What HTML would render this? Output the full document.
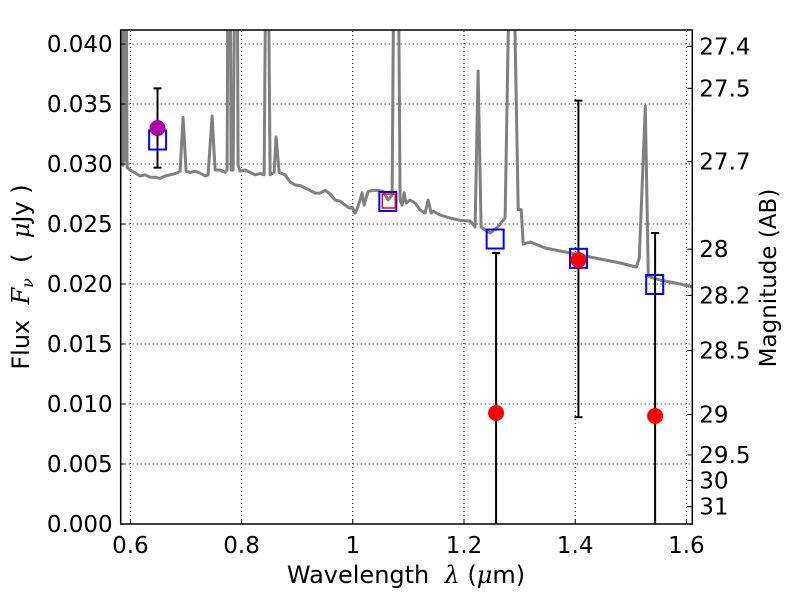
<!DOCTYPE html>
<html><head><meta charset="utf-8"><style>
html,body{margin:0;padding:0;background:#fff;overflow:hidden;width:800px;height:600px;}
svg{display:block;font-family:"DejaVu Sans","Liberation Sans",sans-serif;}
</style></head><body>
<svg id="chart" width="800" height="600" viewBox="0 0 800 600">
<defs><clipPath id="pc"><rect x="120.7" y="30" width="571.6" height="494"/></clipPath></defs>
<rect x="0" y="0" width="800" height="600" fill="#fff"/>
<g id="grid"></g>
<g id="marks" clip-path="url(#pc)"></g>
<g id="axes"></g>
<text x="406" y="583" font-size="24" text-anchor="middle" xml:space="preserve">Wavelength  <tspan font-style="italic" font-family="DejaVu Serif,serif">λ</tspan> (<tspan font-style="italic" font-family="DejaVu Serif,serif">μ</tspan>m)</text>
<text transform="translate(29,277) rotate(-90)" font-size="24" text-anchor="middle" xml:space="preserve">Flux  <tspan font-style="italic" font-family="DejaVu Serif,serif">F<tspan font-size="16" dy="4">ν</tspan></tspan><tspan dy="-4">  (  </tspan><tspan font-style="italic" font-family="DejaVu Serif,serif">μ</tspan>Jy )</text>
<text transform="translate(776,278) rotate(-90)" font-size="23" text-anchor="middle">Magnitude (AB)</text>
</svg>
<script>
const specLam = [0.5833,0.5851,0.5869,0.5887,0.5905,0.5923,0.5941,0.5995,0.6085,0.6174,0.6264,0.6354,0.6444,0.6534,0.6624,0.6714,0.6804,0.6858,0.6894,0.6948,0.7002,0.7074,0.7163,0.7253,0.7343,0.7397,0.7469,0.7523,0.7613,0.7703,0.7739,0.7757,0.7793,0.7811,0.7847,0.7883,0.7919,0.7937,0.7973,0.8063,0.8153,0.8243,0.8333,0.8405,0.8441,0.8477,0.8513,0.8584,0.8620,0.8674,0.8782,0.8872,0.8962,0.9052,0.9142,0.9232,0.9322,0.9412,0.9502,0.9592,0.9682,0.9772,0.9862,0.9916,0.9952,0.9988,1.0042,1.0078,1.0132,1.0168,1.0204,1.0240,1.0276,1.0347,1.0455,1.0545,1.0635,1.0671,1.0707,1.0743,1.0815,1.0851,1.0887,1.0923,1.0959,1.1031,1.1121,1.1211,1.1301,1.1355,1.1409,1.1445,1.1571,1.1751,1.1931,1.2110,1.2200,1.2254,1.2308,1.2380,1.2470,1.2542,1.2596,1.2740,1.2830,1.2884,1.2974,1.3028,1.3064,1.3190,1.3460,1.3730,1.4000,1.4270,1.4540,1.4810,1.5098,1.5152,1.5260,1.5314,1.5350,1.5530,1.5710,1.5890,1.6106];
const specFlux = [0.0299,0.05,0.0299,0.05,0.0303,0.05,0.0297,0.0295,0.02925,0.0290,0.0291,0.0289,0.0289,0.0288,0.0290,0.0291,0.0292,0.0293,0.0294,0.0339,0.0294,0.0293,0.0294,0.02925,0.0290,0.0291,0.0340,0.0295,0.0295,0.0293,0.0295,0.05,0.05,0.0295,0.0295,0.05,0.05,0.0299,0.0294,0.0295,0.0293,0.0291,0.0292,0.0291,0.05,0.05,0.0291,0.0293,0.03225,0.0293,0.0291,0.0285,0.02825,0.0282,0.0280,0.0278,0.02758,0.02758,0.0278,0.0275,0.0270,0.0269,0.02658,0.0264,0.02633,0.0264,0.0259,0.02625,0.0270,0.0276,0.02658,0.02717,0.0277,0.0278,0.0278,0.0277,0.0270,0.0272,0.02742,0.05,0.05,0.0270,0.02658,0.0276,0.02675,0.0270,0.02675,0.02617,0.02592,0.0270,0.02592,0.02608,0.02575,0.0255,0.0253,0.02525,0.02475,0.03775,0.02475,0.0245,0.02425,0.0245,0.0247,0.0255,0.05,0.05,0.0262,0.0262,0.02333,0.0235,0.0230,0.02275,0.0225,0.02225,0.0220,0.02175,0.02142,0.02217,0.03483,0.02067,0.02058,0.02033,0.02017,0.0200,0.01975];
const modelLam = [0.649,1.063,1.256,1.406,1.543];
const modelFlux = [0.0320,0.02688,0.02375,0.02214,0.01996];
const refLam = [1.0648];
const refFlux = [0.02692];
const obsLam = [0.6488,1.2577,1.4058,1.5437];
const obsFlux = [0.0330,0.00925,0.0220,0.0090];
const obsHi = [0.0363,0.02258,0.03528,0.02425];
const obsLo = [0.0297,-0.01,0.0089,-0.01];
const obsColor = ['#aa00aa','#ff0000','#ff0000','#ff0000'];
const xTicks = [0.6,0.8,1.0,1.2,1.4,1.6];
const xTickLabels = ['0.6','0.8','1','1.2','1.4','1.6'];
const yTicks = [0,0.005,0.010,0.015,0.020,0.025,0.030,0.035,0.040];
const yTickLabels = ['0.000','0.005','0.010','0.015','0.020','0.025','0.030','0.035','0.040'];
const magTicks = [27.4,27.5,27.7,28,28.2,28.5,29,29.5,30,31];
const magTickLabels = ['27.4','27.5','27.7','28','28.2','28.5','29','29.5','30','31'];

const NS='http://www.w3.org/2000/svg';
const X0=120.7,X1=692.3,Y0=524,Y1=30;
const xMin=0.5826,xMax=1.6106,yMin=0,yMax=0.04117;
function sx(v){return X0+(v-xMin)/(xMax-xMin)*(X1-X0);}
function sy(v){return Y0-(v-yMin)/(yMax-yMin)*(Y0-Y1);}
function magToFlux(m){return Math.pow(10,(23.9-m)/2.5);}
function mk(tag,attrs,parent){const e=document.createElementNS(NS,tag);for(const k in attrs)e.setAttribute(k,attrs[k]);parent.appendChild(e);return e;}
const grid=document.getElementById('grid'),marks=document.getElementById('marks'),axes=document.getElementById('axes');

xTicks.forEach((t,i)=>{
  const g=mk('line',{x1:sx(t),x2:sx(t),y1:Y0,y2:Y1,stroke:'#000','stroke-width':1,'stroke-dasharray':'1,3'},grid);
  
  
  const tk=mk('line',{x1:sx(t),x2:sx(t),y1:Y0,y2:Y0-5,stroke:'#000'},axes);
  
  
  const lb=mk('text',{x:sx(t),y:Y0+29,'font-size':23,'text-anchor':'middle'},axes);
  lb.textContent=xTickLabels[i];
  
  
});
yTicks.forEach((t,i)=>{
  const g=mk('line',{x1:X0,x2:X1,y1:sy(t),y2:sy(t),stroke:'#000','stroke-width':1,'stroke-dasharray':'1,3'},grid);
  
  
  const tk=mk('line',{x1:X0,x2:X0+5,y1:sy(t),y2:sy(t),stroke:'#000'},axes);
  
  
  const lb=mk('text',{x:X0-8,y:sy(t)+8,'font-size':23,'text-anchor':'end'},axes);
  lb.textContent=yTickLabels[i];
  
  
});
magTicks.forEach((m,i)=>{
  const y=sy(magToFlux(m));
  const tk=mk('line',{x1:X1,x2:X1-5,y1:y,y2:y,stroke:'#000'},axes);
  
  
  const lb=mk('text',{x:X1+7,y:y+8,'font-size':23,'text-anchor':'start'},axes);
  lb.textContent=magTickLabels[i];
  
  
});

let d='';
specLam.forEach((l,i)=>{d+=(i?'L':'M')+sx(l).toFixed(1)+','+sy(specFlux[i]).toFixed(1);});
const sp=mk('path',{d:d,fill:'none',stroke:'#808080','stroke-width':3,'stroke-linejoin':'round'},marks);



obsLam.forEach((l,i)=>{
  const x=sx(l);
  const e=mk('line',{x1:x,x2:x,y1:sy(obsHi[i]),y2:sy(obsLo[i]),stroke:'#000','stroke-width':2},marks);
  
  
  [obsHi[i],obsLo[i]].forEach(v=>{
    const c=mk('line',{x1:x-4,x2:x+4,y1:sy(v),y2:sy(v),stroke:'#000','stroke-width':2},marks);
    
    
  });
});
modelLam.forEach((l,i)=>{
  const r=mk('rect',{x:sx(l)-8.5,y:sy(modelFlux[i])-9.5,width:17,height:19,fill:'none',stroke:'#0000ff','stroke-width':2},marks);
  
  
});
refLam.forEach((l,i)=>{
  const r=mk('rect',{x:sx(l)-6.5,y:sy(refFlux[i])-7,width:13,height:14,fill:'none',stroke:'#ff0000','stroke-width':1.5},marks);
  
  
});
obsLam.forEach((l,i)=>{
  const c=mk('circle',{cx:sx(l),cy:sy(obsFlux[i]),r:8,fill:obsColor[i]},marks);
  
  
});
const fr=mk('rect',{x:X0,y:Y1,width:X1-X0,height:Y0-Y1,fill:'none',stroke:'#000','stroke-width':1.5},axes);


</script>
</body></html>
